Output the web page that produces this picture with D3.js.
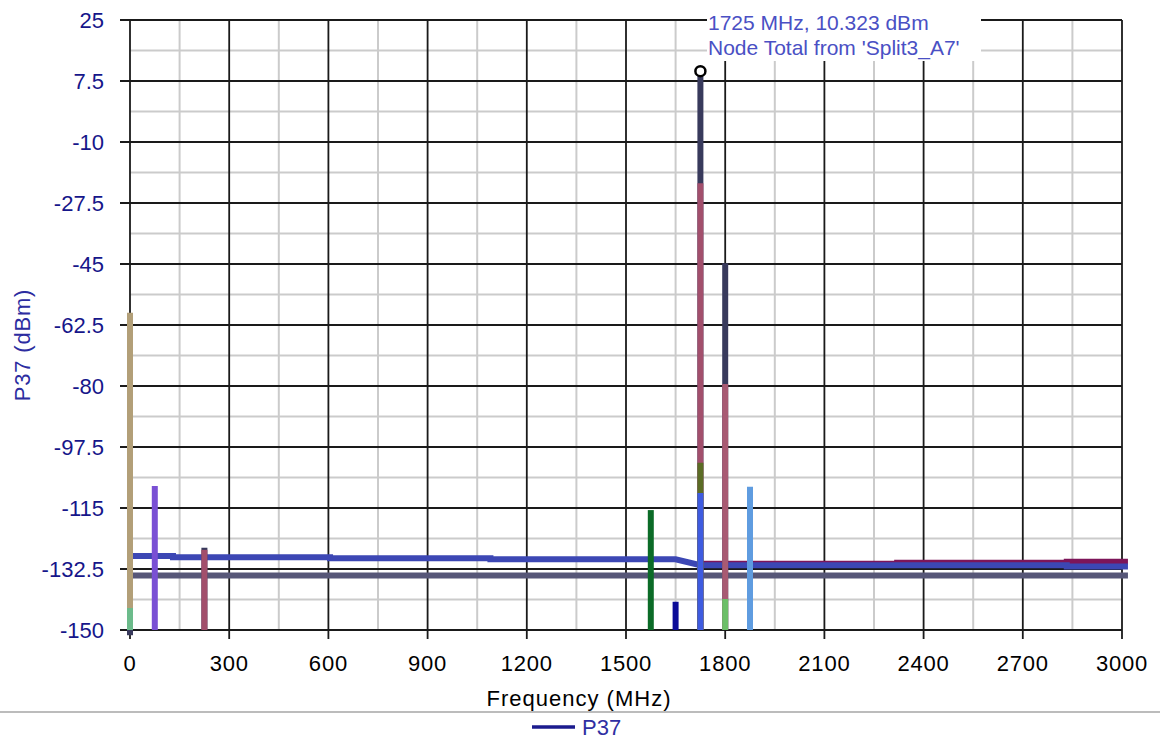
<!DOCTYPE html>
<html>
<head>
<meta charset="utf-8">
<script src="https://cdn.jsdelivr.net/npm/d3@7"></script>
<style>
  html, body { margin: 0; padding: 0; background: #ffffff; }
  svg { display: block; font-family: "Liberation Sans", Arial, sans-serif; }
</style>
</head>
<body>
<svg id="chart" width="1167" height="740"></svg>
<script>
// ---------------- data ----------------
const xTickValues = [0, 300, 600, 900, 1200, 1500, 1800, 2100, 2400, 2700, 3000];
const xTickLabels = ["0", "300", "600", "900", "1200", "1500", "1800", "2100", "2400", "2700", "3000"];
const yTickValues = [25, 7.5, -10, -27.5, -45, -62.5, -80, -97.5, -115, -132.5, -150];
const yTickLabels = ["25", "7.5", "-10", "-27.5", "-45", "-62.5", "-80", "-97.5", "-115", "-132.5", "-150"];

// spectral lines (stems): frequency (MHz), level (dBm), trace id
const stemFreq   = [0,      0,      0,      75,     225,    225,    1575,   1650,   1725,   1725,  1725,   1725,   1800,  1800,  1800,   1875];
const stemLevel  = [-59.0,  -143.7, -151.5, -108.7, -126.4, -127.0, -115.6, -141.9, 10.323, -21.8, -102.0, -110.7, -44.8, -79.4, -141.1, -108.9];
const stemTrace  = ["T1",   "T2",   "T3",   "T4",   "T3",   "T5",   "T6",   "T7",   "T3",   "T5",  "T8",   "T9",   "T3",  "T10", "T11",  "T12"];

// noise-floor traces (stepped)
const floorBlueFreq  = [0, 130, 130, 605, 605, 1090, 1090, 1650, 1725, 2833, 2833, 3018];
const floorBlueLevel = [-128.8, -128.8, -129.1, -129.1, -129.4, -129.4, -129.7, -129.7, -131.4, -131.4, -131.8, -131.8];
const floorRedFreq   = [1725, 2320, 2320, 2833, 2833, 3018];
const floorRedLevel  = [-131.0, -131.0, -130.7, -130.7, -130.4, -130.4];
const floorGrayFreq  = [0, 3018];
const floorGrayLevel = [-134.4, -134.4];

const markerFreq  = [1725];
const markerLevel = [10.323];
const markerText  = ["1725 MHz, 10.323 dBm", "Node Total from 'Split3_A7'"];
const legendNames = ["P37"];

// ---------------- styles ----------------
const traceColor = {
  T1: "#b29f78", T2: "#6cbb8b", T3: "#383a5c", T4: "#7a50d4", T5: "#a24f6c",
  T6: "#0b6b27", T7: "#0c0c98", T8: "#5b6c25", T9: "#3e5be0", T10: "#a85a73",
  T11: "#6cbf68", T12: "#5f9ce0"
};

const svg = d3.select("#chart");
const W = 1167, H = 740;
svg.append("rect").attr("width", W).attr("height", H).attr("fill", "#ffffff");

const x = d3.scaleLinear().domain([0, 3000]).range([130, 1122]);
const y = d3.scaleLinear().domain([-150, 25]).range([630, 20]);

const FONT = 22;

// ---------------- grid ----------------
const minorX = d3.range(150, 3000, 300);
const minorY = d3.range(0, 10).map(i => 25 - 8.75 - i * 17.5);

const grid = svg.append("g");
grid.selectAll(".mx").data(minorX).join("line")
  .attr("x1", d => x(d)).attr("x2", d => x(d))
  .attr("y1", y(25)).attr("y2", y(-150))
  .attr("stroke", "#cbcbcb").attr("stroke-width", 2);
grid.selectAll(".my").data(minorY).join("line")
  .attr("x1", x(0)).attr("x2", x(3000))
  .attr("y1", d => y(d)).attr("y2", d => y(d))
  .attr("stroke", "#cbcbcb").attr("stroke-width", 2);
grid.selectAll(".MX").data(xTickValues).join("line")
  .attr("x1", d => x(d)).attr("x2", d => x(d))
  .attr("y1", y(25)).attr("y2", y(-150) + 9)
  .attr("stroke", "#1a1a1a").attr("stroke-width", 1.8);
grid.selectAll(".MY").data(yTickValues).join("line")
  .attr("x1", x(0) - 10).attr("x2", x(3000))
  .attr("y1", d => y(d)).attr("y2", d => y(d))
  .attr("stroke", "#1a1a1a").attr("stroke-width", 1.8);

// ---------------- tick labels ----------------
svg.append("g").selectAll("text").data(yTickValues).join("text")
  .attr("x", 104).attr("y", d => y(d))
  .attr("dy", "0.36em")
  .attr("text-anchor", "end")
  .attr("font-size", FONT)
  .attr("fill", "#16168a")
  .text((d, i) => yTickLabels[i]);

svg.append("g").selectAll("text").data(xTickValues).join("text")
  .attr("x", d => x(d)).attr("y", 671)
  .attr("text-anchor", "middle")
  .attr("font-size", FONT)
  .attr("letter-spacing", 0.8)
  .attr("fill", "#000000")
  .text((d, i) => xTickLabels[i]);

// ---------------- noise floors ----------------
const line = d3.line().x(d => x(d[0])).y(d => y(d[1]));
function drawFloor(freqs, levels, color, width) {
  svg.append("path")
    .datum(freqs.map((f, i) => [f, levels[i]]))
    .attr("d", line)
    .attr("fill", "none")
    .attr("stroke", color)
    .attr("stroke-width", width)
    .attr("stroke-linejoin", "miter");
}
drawFloor(floorGrayFreq, floorGrayLevel, "#575778", 6);
drawFloor(floorRedFreq, floorRedLevel, "#7d1559", 6);
drawFloor(floorBlueFreq, floorBlueLevel, "#3c47b4", 6);

// ---------------- stems ----------------
const stems = stemFreq.map((f, i) => ({ f, v: stemLevel[i], t: stemTrace[i] }))
  .sort((a, b) => b.v - a.v);
svg.append("g").selectAll("line").data(stems).join("line")
  .attr("x1", d => x(d.f)).attr("x2", d => x(d.f))
  .attr("y1", y(-150)).attr("y2", d => y(d.v))
  .attr("stroke", d => traceColor[d.t])
  .attr("stroke-width", 6);

// ---------------- marker + annotation ----------------
svg.append("g").selectAll("circle").data(markerFreq).join("circle")
  .attr("cx", d => x(d)).attr("cy", (d, i) => y(markerLevel[i]))
  .attr("r", 5)
  .attr("fill", "#ffffff").attr("stroke", "#000000").attr("stroke-width", 2.5);

svg.append("rect").attr("x", 707).attr("y", 0).attr("width", 274).attr("height", 61).attr("fill", "#ffffff");
svg.append("g").selectAll("text").data(markerText).join("text")
  .attr("x", 708).attr("y", (d, i) => 30 + i * 25)
  .attr("font-size", 21)
  .attr("fill", "#4a50c4")
  .text(d => d);

// ---------------- axis titles ----------------
svg.append("text")
  .attr("transform", "translate(30,345) rotate(-90)")
  .attr("text-anchor", "middle")
  .attr("font-size", FONT)
  .attr("letter-spacing", 0.8)
  .attr("fill", "#2c2ca0")
  .text("P37 (dBm)");

svg.append("text")
  .attr("x", 579).attr("y", 706)
  .attr("text-anchor", "middle")
  .attr("font-size", FONT)
  .attr("letter-spacing", 1)
  .attr("fill", "#000000")
  .text("Frequency (MHz)");

// ---------------- legend ----------------
svg.append("line").attr("x1", 0).attr("x2", 1160).attr("y1", 712).attr("y2", 712)
  .attr("stroke", "#7a7a7a").attr("stroke-width", 1.2);
const lg = svg.append("g").selectAll("g").data(legendNames).join("g");
lg.append("line").attr("x1", 532).attr("x2", 575).attr("y1", 727).attr("y2", 727)
  .attr("stroke", "#1b1b8e").attr("stroke-width", 3.5);
lg.append("text").attr("x", 582).attr("y", 727).attr("dy", "0.36em")
  .attr("font-size", FONT).attr("fill", "#2f2fa2").text(d => d);
</script>
</body>
</html>
